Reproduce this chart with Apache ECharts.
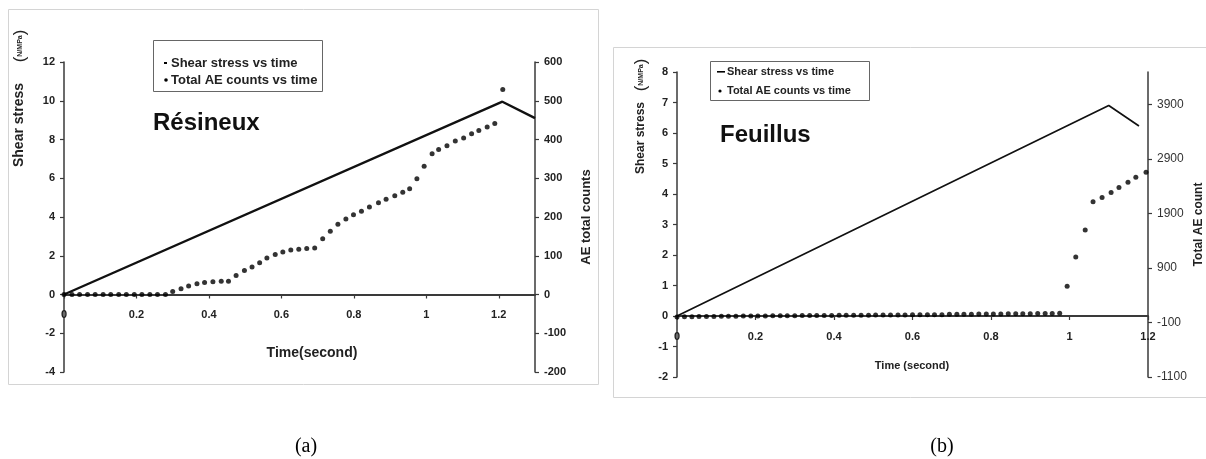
<!DOCTYPE html>
<html>
<head>
<meta charset="utf-8">
<script src="https://cdn.jsdelivr.net/npm/echarts@6/dist/echarts.min.js"></script>
<style>
html,body{margin:0;padding:0;background:#fff;}
#c{width:1206px;height:459px;}
</style>
</head>
<body>
<div id="c"></div>
<script>
// ---------- Panel (a) Résineux ----------
const timeShearA = [0, 1.21, 1.3];
const shearA = [0, 9.95, 9.1];
const timeAeA = [
  0, 0.022, 0.043, 0.065, 0.086, 0.108, 0.129, 0.151, 0.172, 0.194,
  0.215, 0.237, 0.258, 0.28, 0.3, 0.323, 0.344, 0.367, 0.388, 0.411,
  0.434, 0.454, 0.475, 0.498, 0.519, 0.54, 0.56, 0.583, 0.604, 0.626,
  0.648, 0.67, 0.692, 0.714, 0.735, 0.756, 0.778, 0.799, 0.821, 0.843,
  0.868, 0.889, 0.913, 0.935, 0.954, 0.974, 0.994, 1.016, 1.034, 1.057,
  1.08, 1.103, 1.125, 1.145, 1.168, 1.189, 1.211
];
const aeA = [
  0, 0, 0, 0, 0, 0, 0, 0, 0, 0,
  0, 0, 0, 0, 8, 15, 22, 28, 31, 33,
  34, 34, 49, 62, 71, 82, 94, 103, 110, 115,
  117, 119, 120, 144, 163, 181, 195, 206, 215, 226,
  237, 246, 255, 264, 273, 299, 331, 363, 374, 384,
  396, 404, 415, 423, 432, 441, 529
];
// axis ranges [min, max, interval]
const xRangeA = [0, 1.3, 0.2];
const yLeftRangeA = [-4, 12, 2];
const yRightRangeA = [-200, 600, 100];

// ---------- Panel (b) Feuillus ----------
const timeShearB = [0, 1.1, 1.177];
const shearB = [0, 6.9, 6.23];
const timeAeB = [
  0, 0.019, 0.038, 0.056, 0.075, 0.094, 0.113, 0.131, 0.15, 0.169,
  0.188, 0.206, 0.225, 0.244, 0.263, 0.281, 0.3, 0.319, 0.338, 0.356,
  0.375, 0.394, 0.413, 0.431, 0.45, 0.469, 0.488, 0.506, 0.525, 0.544,
  0.563, 0.581, 0.6, 0.619, 0.638, 0.656, 0.675, 0.694, 0.713, 0.731,
  0.75, 0.769, 0.788, 0.806, 0.825, 0.844, 0.863, 0.881, 0.9, 0.919,
  0.938, 0.956, 0.975,
  0.994, 1.016, 1.04, 1.06, 1.083, 1.106, 1.126, 1.149, 1.169, 1.195
];
const aeB = [
  0, 5, 5, 10, 10, 10, 15, 15, 15, 20,
  20, 20, 20, 25, 25, 25, 25, 30, 30, 30,
  30, 30, 35, 35, 35, 35, 35, 40, 40, 40,
  40, 40, 45, 45, 45, 45, 45, 50, 50, 50,
  50, 55, 55, 55, 55, 60, 60, 60, 60, 65,
  65, 65, 70,
  567, 1104, 1600, 2120, 2196, 2289, 2381, 2474, 2567, 2659
];
const xRangeB = [0, 1.2, 0.2];
const yLeftRangeB = [-2, 8, 1];
const yRightRangeB = [-1100, 4500, 1000];

const legendNames = ['Shear stress vs time', 'Total AE counts vs time'];
const panelTitles = ['Résineux', 'Feuillus'];
const captions = ['(a)', '(b)'];
const yLeftName = 'Shear stress';
const yRightNames = ['AE total counts', 'Total AE count'];
const xNames = ['Time(second)', 'Time (second)'];

function pairs(xs, ys) { return xs.map((x, i) => [x, ys[i]]); }

const FONT = 'Liberation Sans, Arial, sans-serif';
const INK = '#000';
const AXC = '#3a3a3a';

// grid boxes [left, top, width, height]
const gridA = [64, 62, 471, 310];
const gridB = [677, 72, 471, 305];
// pixel offset of the zero line from the grid bottom (x axis crosses at y = 0)
function zeroOffset(g, r) { return -g[3] * (0 - r[0]) / (r[1] - r[0]); }

function valueAxis(range, extra) {
  return Object.assign({
    type: 'value',
    min: range[0], max: range[1], interval: range[2],
    splitLine: { show: false },
    axisLine: { show: true, lineStyle: { color: AXC, width: 1.5 } },
    axisTick: { show: true, length: 4, lineStyle: { color: AXC, width: 1.2 } },
    axisLabel: { color: '#222', fontFamily: FONT, fontWeight: 'bold', fontSize: 11, margin: 9 }
  }, extra);
}

const chart = echarts.init(document.getElementById('c'), null, { renderer: 'canvas' });

const option = {
  animation: false,
  backgroundColor: '#fff',
  grid: [
    { left: gridA[0], top: gridA[1], width: gridA[2], height: gridA[3] },
    { left: gridB[0], top: gridB[1], width: gridB[2], height: gridB[3] }
  ],
  xAxis: [
    valueAxis(xRangeA, {
      gridIndex: 0,
      offset: zeroOffset(gridA, yLeftRangeA),
      axisLine: { show: true, onZero: false, lineStyle: { color: AXC, width: 2 } },
      axisLabel: { color: '#222', fontFamily: FONT, fontWeight: 'bold', fontSize: 11, margin: 15, showMaxLabel: false }
    }),
    valueAxis(xRangeB, {
      gridIndex: 1,
      offset: zeroOffset(gridB, yLeftRangeB),
      axisLine: { show: true, onZero: false, lineStyle: { color: AXC, width: 2 } },
      axisLabel: { color: '#222', fontFamily: FONT, fontWeight: 'bold', fontSize: 11, margin: 15 }
    })
  ],
  yAxis: [
    valueAxis(yLeftRangeA, { gridIndex: 0, position: 'left' }),
    valueAxis(yRightRangeA, {
      gridIndex: 0, position: 'right',
      name: yRightNames[0], nameLocation: 'middle', nameGap: 45,
      nameTextStyle: { fontFamily: FONT, fontWeight: 'bold', fontSize: 13, color: '#222' }
    }),
    valueAxis(yLeftRangeB, { gridIndex: 1, position: 'left' }),
    valueAxis(yRightRangeB, {
      gridIndex: 1, position: 'right',
      name: yRightNames[1], nameLocation: 'middle', nameGap: 45,
      nameTextStyle: { fontFamily: FONT, fontWeight: 'bold', fontSize: 12, color: '#222' },
      axisLabel: { color: '#333', fontFamily: FONT, fontSize: 12, margin: 9, showMaxLabel: false,
        formatter: function (v) { return String(v); } }
    })
  ],
  series: [
    {
      name: legendNames[0], type: 'line', xAxisIndex: 0, yAxisIndex: 0,
      data: pairs(timeShearA, shearA), showSymbol: false,
      lineStyle: { color: '#111', width: 2.4 }, z: 3
    },
    {
      name: legendNames[1], type: 'scatter', xAxisIndex: 0, yAxisIndex: 1,
      data: pairs(timeAeA, aeA), symbolSize: 5,
      itemStyle: { color: INK }, z: 4
    },
    {
      name: legendNames[0], type: 'line', xAxisIndex: 1, yAxisIndex: 2,
      data: pairs(timeShearB, shearB), showSymbol: false,
      lineStyle: { color: '#111', width: 1.7 }, z: 3
    },
    {
      name: legendNames[1], type: 'scatter', xAxisIndex: 1, yAxisIndex: 3,
      data: pairs(timeAeB, aeB), symbolSize: 5,
      itemStyle: { color: INK }, z: 4
    }
  ],
  graphic: [
    // frames
    { type: 'rect', shape: { x: 8.5, y: 9.5, width: 590, height: 375 }, style: { fill: 'none', stroke: '#d4d4d4', lineWidth: 1 }, z: -1 },
    { type: 'rect', shape: { x: 613.5, y: 47.5, width: 620, height: 350 }, style: { fill: 'none', stroke: '#d4d4d4', lineWidth: 1 }, z: -1 },
    // legend (a)
    { type: 'rect', shape: { x: 153.5, y: 40.5, width: 169, height: 51 }, style: { fill: '#fff', stroke: '#666', lineWidth: 1 }, z: 10 },
    { type: 'rect', shape: { x: 164, y: 62, width: 3, height: 2 }, style: { fill: INK }, z: 11 },
    { type: 'circle', shape: { cx: 166, cy: 80, r: 1.8 }, style: { fill: INK }, z: 11 },
    { type: 'text', x: 171, y: 63, style: { text: legendNames[0], fill: '#222', font: 'bold 13px "Liberation Sans Narrow", "Liberation Sans", Arial', verticalAlign: 'middle' }, z: 11 },
    { type: 'text', x: 171, y: 80, style: { text: legendNames[1], fill: '#222', font: 'bold 13px "Liberation Sans Narrow", "Liberation Sans", Arial', verticalAlign: 'middle' }, z: 11 },
    // legend (b)
    { type: 'rect', shape: { x: 710.5, y: 61.5, width: 159, height: 39 }, style: { fill: '#fff', stroke: '#666', lineWidth: 1 }, z: 10 },
    { type: 'rect', shape: { x: 717, y: 71, width: 8, height: 1.6 }, style: { fill: INK }, z: 11 },
    { type: 'circle', shape: { cx: 720, cy: 91, r: 1.6 }, style: { fill: INK }, z: 11 },
    { type: 'text', x: 727, y: 72, style: { text: legendNames[0], fill: '#222', font: 'bold 11px "Liberation Sans", Arial', verticalAlign: 'middle' }, z: 11 },
    { type: 'text', x: 727, y: 91, style: { text: legendNames[1], fill: '#222', font: 'bold 11px "Liberation Sans", Arial', verticalAlign: 'middle' }, z: 11 },
    // panel titles
    { type: 'text', x: 153, y: 123, style: { text: panelTitles[0], fill: '#111', font: 'bold 24px "Liberation Sans", Arial', verticalAlign: 'middle' }, z: 11 },
    { type: 'text', x: 720, y: 135, style: { text: panelTitles[1], fill: '#111', font: 'bold 24px "Liberation Sans", Arial', verticalAlign: 'middle' }, z: 11 },
    // left axis names (rotated)
    { type: 'text', x: 19, y: 125, rotation: Math.PI / 2, style: { text: yLeftName, fill: '#222', font: 'bold 14px "Liberation Sans", Arial', align: 'center', verticalAlign: 'middle' }, z: 11 },
    { type: 'text', x: 20, y: 46, rotation: Math.PI / 2, style: { text: '{p|(}{f|N/MPa}{p|)}', rich: { p: { fontSize: 17, fontFamily: 'Liberation Sans', fill: '#222' }, f: { fontSize: 7, fontWeight: 'bold', fontFamily: 'Liberation Sans', fill: '#222' } }, align: 'center', verticalAlign: 'middle' }, z: 11 },
    { type: 'text', x: 641, y: 138, rotation: Math.PI / 2, style: { text: yLeftName, fill: '#222', font: 'bold 12px "Liberation Sans", Arial', align: 'center', verticalAlign: 'middle' }, z: 11 },
    { type: 'text', x: 641, y: 75, rotation: Math.PI / 2, style: { text: '{p|(}{f|N/MPa}{p|)}', rich: { p: { fontSize: 17, fontFamily: 'Liberation Sans', fill: '#222' }, f: { fontSize: 7, fontWeight: 'bold', fontFamily: 'Liberation Sans', fill: '#222' } }, align: 'center', verticalAlign: 'middle' }, z: 11 },
    // x axis names
    { type: 'text', x: 312, y: 353, style: { text: xNames[0], fill: '#222', font: 'bold 14px "Liberation Sans", Arial', align: 'center', verticalAlign: 'middle' }, z: 11 },
    { type: 'text', x: 912, y: 366, style: { text: xNames[1], fill: '#222', font: 'bold 11px "Liberation Sans", Arial', align: 'center', verticalAlign: 'middle' }, z: 11 },
    // captions
    { type: 'text', x: 306, y: 447, style: { text: captions[0], fill: '#000', font: '20px "Liberation Serif", "Times New Roman", serif', align: 'center', verticalAlign: 'middle' }, z: 11 },
    { type: 'text', x: 942, y: 447, style: { text: captions[1], fill: '#000', font: '20px "Liberation Serif", "Times New Roman", serif', align: 'center', verticalAlign: 'middle' }, z: 11 }
  ]
};

chart.setOption(option);
</script>
</body>
</html>
